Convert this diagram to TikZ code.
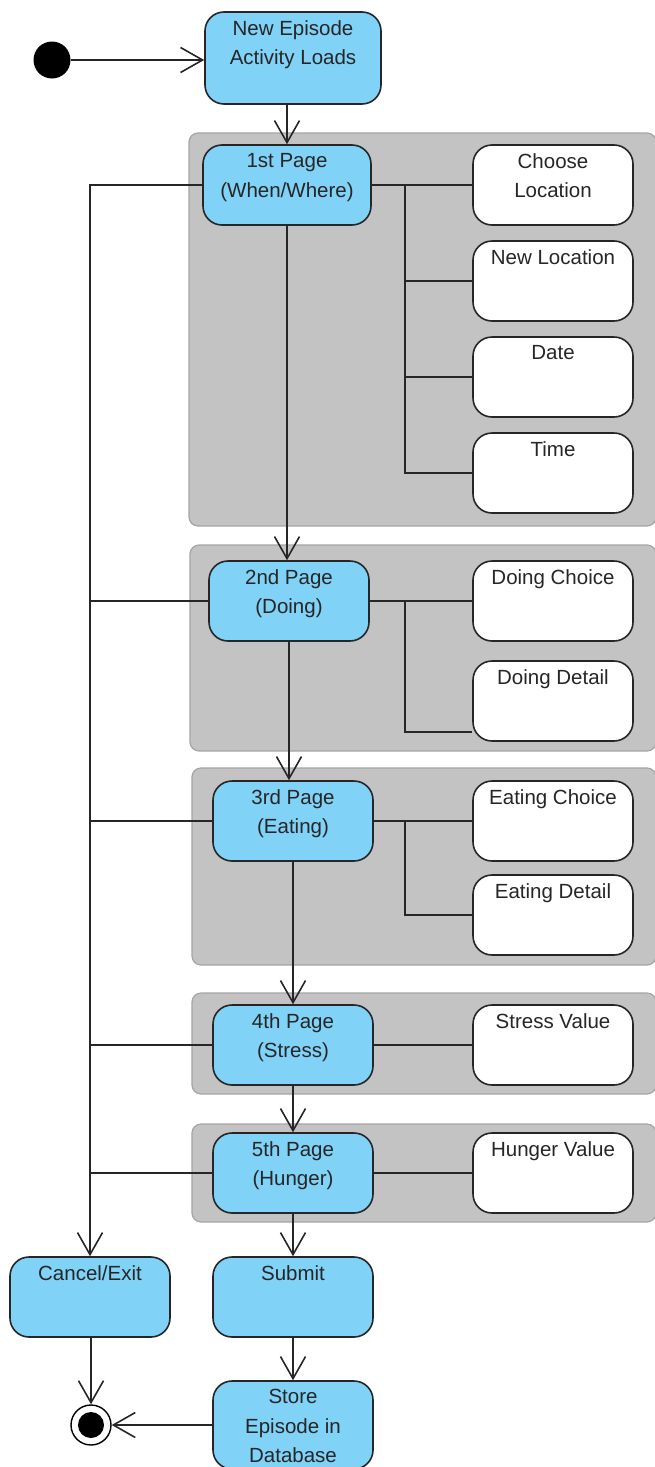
\documentclass[tikz,border=0pt]{standalone}
\usepackage{fontspec}
\setmainfont{Liberation Sans}
\usepackage{xcolor}
\usetikzlibrary{arrows.meta,positioning}
\definecolor{actblue}{RGB}{128,210,247}
\definecolor{grpgray}{RGB}{195,195,195}
\definecolor{grpline}{RGB}{165,165,165}
\definecolor{inkdark}{RGB}{38,38,38}
\tikzset{
  A/.style={draw=inkdark, fill=actblue, rounded corners=19pt, line width=1.6pt,
            minimum width=160pt, minimum height=80pt, inner sep=0pt},
  F/.style={A, fill=white},
  T/.style={anchor=north, yshift=-9pt, align=center, inner sep=0pt,
            text=inkdark, font=\fontsize{20.5}{29.5}\selectfont},
  SA/.style={-{Straight Barb[length=22pt,width=25pt]}, line width=1.6pt, draw=inkdark},
  L/.style={line width=1.6pt, draw=inkdark}
}

\begin{document}
\begin{tikzpicture}[x=1pt, y=-1pt,
  G/.style={draw=grpline, fill=grpgray, rounded corners=9pt, line width=1.2pt,
            inner sep=0pt},
  ST/.style={circle, fill=black, minimum size=37pt, inner sep=0pt},
  EN/.style={circle, draw=black, fill=white, line width=1.4pt, minimum size=40pt,
             inner sep=0pt,
             path picture={\fill[black] (path picture bounding box.center) circle (13pt);}}
]
\useasboundingbox (0,0) rectangle (654,1467);

% Page groups
\node[G, minimum width=467pt, minimum height=393pt] (g1) at (422.5,329.5) {};
\node[G, minimum width=466pt, minimum height=206pt] (g2) at (423,648) {};
\node[G, minimum width=464pt, minimum height=197pt] (g3) at (424,866.5) {};
\node[G, minimum width=464pt, minimum height=101pt] (g4) at (424,1043.5) {};
\node[G, minimum width=464pt, minimum height=98pt]  (g5) at (424,1173) {};

% Start and load
\node[ST] (start) at (52,60) {};
\node[A, minimum width=176pt, minimum height=92pt,
      label={[T]north:{New Episode\\Activity Loads}}] (load) at (293,58) {};

% Pages
\node[A, minimum width=168pt, label={[T]north:{1st Page\\(When/Where)}}] (p1) at (287,185) {};
\node[A, label={[T]north:{2nd Page\\(Doing)}}]   (p2) at (289,601) {};
\node[A, label={[T]north:{3rd Page\\(Eating)}}]  (p3) at (293,821) {};
\node[A, label={[T]north:{4th Page\\(Stress)}}]  (p4) at (293,1045) {};
\node[A, label={[T]north:{5th Page\\(Hunger)}}]  (p5) at (293,1173) {};

% Page fields
\node[F, label={[T]north:{Choose\\Location}}] (c1) at (553,185) {};
\node[F, label={[T]north:New Location}]       (c2) at (553,281) {};
\node[F, label={[T]north:Date}]               (c3) at (553,377) {};
\node[F, label={[T]north:Time}]               (c4) at (553,473) {};
\node[F, label={[T]north:Doing Choice}]       (d1) at (553,601) {};
\node[F, label={[T]north:Doing Detail}]       (d2) at (553,701) {};
\node[F, label={[T]north:Eating Choice}]      (e1) at (553,821) {};
\node[F, label={[T]north:Eating Detail}]      (e2) at (553,915) {};
\node[F, label={[T]north:Stress Value}]       (s1) at (553,1045) {};
\node[F, label={[T]north:Hunger Value}]       (h1) at (553,1173) {};

% Endings
\node[A, label={[T]north:Cancel/Exit}] (cancel) at (90,1297) {};
\node[A, label={[T]north:Submit}]      (submit) at (293,1297) {};
\node[A, minimum height=88pt,
      label={[T]north:{Store\\Episode in\\Database}}] (store) at (293,1425) {};
\node[EN] (fin) at (91,1425) {};

% Branch points
\coordinate (j1) at (405,185);
\coordinate (j2) at (405,601);
\coordinate (j3) at (405,821);

% -- main flow --
\draw[SA] (start.east) -- (start.east -| load.west);
\draw[SA] (p1.north |- load.south) -- (p1.north);
\draw[SA] (p1.south) -- (p1.south |- p2.north);
\draw[SA] (p2.south) -- (p2.south |- p3.north);
\draw[SA] (p3.south) -- (p3.south |- p4.north);
\draw[SA] (p4.south) -- (p4.south |- p5.north);
\draw[SA] (p5.south) -- (submit.north);
\draw[SA] (submit.south) -- (store.north);
\draw[SA] (store.west) -- (fin.east);
\draw[SA] (cancel.south -| fin.north) -- (fin.north);

% -- cancel bus --
\draw[SA] (p1.west) -| (cancel.north);
\foreach \p in {p2,p3,p4,p5}
  \draw[L] (\p.west) -- (\p.west -| cancel.north);

% -- fields --
\draw[L] (p1.east) -- (c1.west);
\draw[L] (j1) |- (c4.west);
\foreach \c in {c2,c3}
  \draw[L] (j1 |- \c.west) -- (\c.west);
\draw[L] (p2.east) -- (d1.west);
\draw[L] (j2) |- ([yshift=10pt]d2.south west);
\draw[L] (p3.east) -- (e1.west);
\draw[L] (j3) |- (e2.west);
\draw[L] (p4.east) -- (s1.west);
\draw[L] (p5.east) -- (h1.west);

\end{tikzpicture}
\end{document}
